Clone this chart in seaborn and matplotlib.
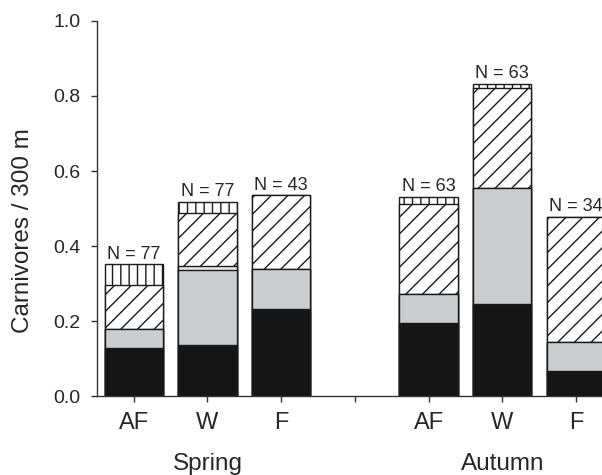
import pandas as pd
import matplotlib
matplotlib.use('Agg')
import matplotlib.pyplot as plt
import seaborn as sns
import numpy as np

sns.set_style('ticks')
plt.rcParams['font.family'] = ['Liberation Sans', 'DejaVu Sans']
plt.rcParams['hatch.linewidth'] = 1.0

# data
seasons = ['Spring', 'Autumn']
habitats = ['AF', 'W', 'F']
black = [0.128, 0.136, 0.232, 0.195, 0.245, 0.067]
grey = [0.052, 0.200, 0.107, 0.078, 0.310, 0.076]
white = [0.000, 0.011, 0.000, 0.000, 0.000, 0.000]
diag = [0.117, 0.141, 0.196, 0.240, 0.265, 0.335]
vert = [0.055, 0.030, 0.000, 0.018, 0.013, 0.000]
n_obs = [77, 77, 43, 63, 63, 34]

#%%
pos = [i + 4 * s for s in range(len(seasons)) for i in range(len(habitats))]
df = pd.DataFrame({'pos': pos, 'black': black, 'grey': grey, 'white': white,
                   'diag': diag, 'vert': vert})
df['c_black'] = df.black
df['c_grey'] = df.c_black + df.grey
df['c_white'] = df.c_grey + df.white
df['c_diag'] = df.c_white + df.diag
df['c_vert'] = df.c_diag + df.vert

fig = plt.figure(figsize=(6.02, 4.75), dpi=100)
ax = fig.add_axes([0.161, 0.1663, 0.857, 0.7895])

# draw cumulative layers from the top down
layers = [('c_vert', 'white', '||'), ('c_diag', 'white', '//'),
          ('c_white', '#e8e8e8', None), ('c_grey', '#cbcccd', None),
          ('c_black', '#151515', None)]
for col, fc, hatch in layers:
    sns.barplot(data=df, x='pos', y=col, native_scale=True, width=0.79,
                color=fc, saturation=1, edgecolor='#1a1a1a', linewidth=1.0,
                hatch=hatch, ax=ax)

for p, top, n in zip(df.pos, df.c_vert, n_obs):
    ax.text(p, top + 0.004, f'N = {n}', ha='center', va='bottom', fontsize=13)

ax.set_xlim(-0.5, 6.5)
ax.set_ylim(0, 1.0)
ax.set_xticks(range(7))
ax.set_xticklabels(habitats + [''] + habitats, fontsize=17)
yt = np.arange(0, 1.01, 0.2)
ax.set_yticks(yt)
ax.set_yticklabels([f'{v:.1f}' for v in yt], fontsize=14)
ax.tick_params(axis='y', direction='out', length=4, width=1, pad=8, color='#333333')
ax.tick_params(axis='x', direction='out', length=4.5, width=1, pad=7, color='#333333')
ax.set_xlabel('')
ax.set_ylabel('')
ax.text(-0.143, 0.44, 'Carnivores / 300 m', transform=ax.transAxes, rotation=90,
        ha='center', va='center', fontsize=17.5)
for s, name in enumerate(seasons):
    ax.text(1 + 4 * s, -0.197, name, transform=ax.get_xaxis_transform(),
            ha='center', va='baseline', fontsize=17.5)
sns.despine(ax=ax)
for sp in ['left', 'bottom']:
    ax.spines[sp].set_linewidth(1.0)
    ax.spines[sp].set_color('#333333')

plt.savefig('out.png', dpi=100)
